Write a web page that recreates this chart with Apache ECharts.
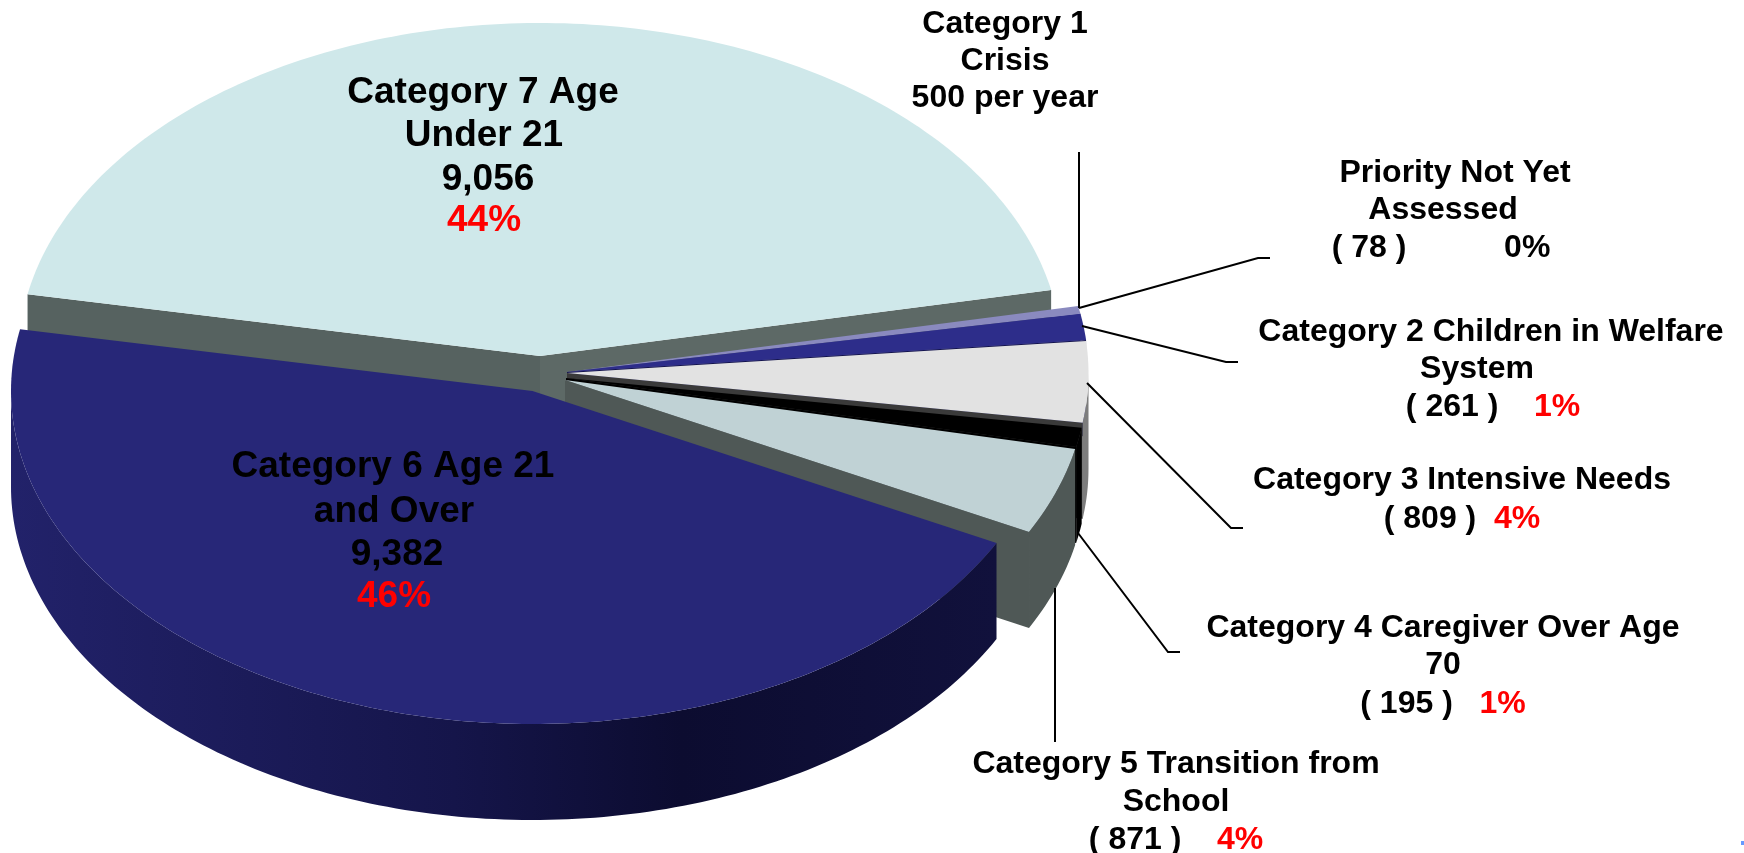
<!DOCTYPE html>
<html>
<head>
<meta charset="utf-8">
<title>Waiting list by priority category</title>
<script src="https://cdn.jsdelivr.net/npm/echarts@6/dist/echarts.min.js"></script>
<style>
  html, body { margin: 0; height: 100%; background: #fff; }
  #main { width: 1744px; height: 853px; }
</style>
</head>
<body>
<div id="main"></div>
<script>
// data, in the order the slices run clockwise from the left
var categories = ['Category 7 Age Under 21', 'Priority Not Yet Assessed', 'Category 2 Children in Welfare System',
  'Category 3 Intensive Needs', 'Category 4 Caregiver Over Age 70', 'Category 5 Transition from School', 'Category 6 Age 21 and Over'];
var counts = [9056, 78, 261, 809, 195, 871, 9382];

// label text, one entry per line
var labelLines = [
  ['Category 7 Age', 'Under 21', '9,056', '{r|44%}'],
  ['Category 6 Age 21', 'and Over', '9,382', '{r|46%}'],
  ['Category 1', 'Crisis', '500 per year'],
  ['Priority Not Yet', 'Assessed', '( 78 )           0%'],
  ['Category 2 Children in Welfare', 'System', '( 261 )    {r|1%}'],
  ['Category 3 Intensive Needs', '( 809 )  {r|4%}'],
  ['Category 4 Caregiver Over Age', '70', '( 195 )   {r|1%}'],
  ['Category 5 Transition from', 'School', '( 871 )    {r|4%}']
];

// pie look
var startAngle = 190.7;
var rx = 521.5, ry = 333, depth = 96;
var centers = [[540, 356], [567, 372], [567, 372], [567, 373], [566, 378], [565, 380], [532.5, 391]];
var topColors = ['#cfe8ea', '#8a8abf', '#2d2d8a', '#e2e2e2', '#000000', '#c0d2d5', '#272778'];
var startFaces = ['#566260', '#444', '#444', '#444', '#000', '#4f5856', '#111'];
var endFaces = ['#5d6966', '#5a5a90', '#14144e', '#3a3a3a', '#000', '#4f5856', '#111'];
var arcWalls = ['#566260', '#666', '#666', '#7d7d7d', '#000', '#4f5856', {
  type: 'linear', x: 0, y: 0, x2: 1, y2: 0,
  colorStops: [
    { offset: 0, color: '#22226a' },
    { offset: 0.45, color: '#15154a' },
    { offset: 0.68, color: '#0c0c30' },
    { offset: 1, color: '#11113c' }
  ]
}];

var total = counts.reduce(function (a, b) { return a + b; }, 0);

function rim(c, deg, drop) {
  var t = deg * Math.PI / 180;
  return [c[0] + rx * Math.cos(t), c[1] + ry * Math.sin(t) + (drop || 0)];
}

function arc(c, from, to, drop) {
  var pts = [];
  for (var d = from; d < to; d += 1) pts.push(rim(c, d, drop));
  pts.push(rim(c, to, drop));
  return pts;
}

function poly(points, fill) {
  return { type: 'polygon', shape: { points: points }, style: { fill: fill } };
}

function face(c, deg, fill) {
  var p = rim(c, deg);
  return poly([c, p, [p[0], p[1] + depth], [c[0], c[1] + depth]], fill);
}

function renderSlice(params) {
  var i = params.dataIndex;
  var before = counts.slice(0, i).reduce(function (a, b) { return a + b; }, 0);
  var from = startAngle + before / total * 360;
  var to = from + counts[i] / total * 360;
  var c = centers[i];
  var kids = [];

  // cut faces only show when they turn toward the viewer
  if (Math.cos(from * Math.PI / 180) < 0) kids.push(face(c, from, startFaces[i]));
  if (Math.cos(to * Math.PI / 180) > 0) kids.push(face(c, to, endFaces[i]));

  // outer wall: only the front half of the rim, 0-180 or 360-540
  [[0, 180], [360, 540]].forEach(function (range) {
    var a = Math.max(from, range[0]), b = Math.min(to, range[1]);
    if (a < b) kids.push(poly(arc(c, a, b, 0).concat(arc(c, a, b, depth).reverse()), arcWalls[i]));
  });

  kids.push(poly([c].concat(arc(c, from, to, 0)), topColors[i]));
  return { type: 'group', children: kids };
}

// label anchors, same shape as labelLines: center x, center y of each line
var labelAnchors = [
  [[483, 93], [484, 136], [488, 180], [484, 221]],
  [[393, 467], [394, 512], [397, 555], [394, 597]],
  [[1005, 24], [1005, 61], [1005, 98]],
  [[1455, 173], [1443, 210], [1441, 248]],
  [[1491, 332], [1477, 369], [1493, 407]],
  [[1462, 480], [1462, 519]],
  [[1443, 628], [1443, 665], [1443, 704]],
  [[1176, 764], [1176, 802], [1176, 840]]
];
var bigLabels = 2;

var leaders = [
  [[1079, 152], [1079, 308]],
  [[1079, 308], [1258, 258], [1270, 258]],
  [[1082, 326], [1226, 362], [1238, 362]],
  [[1087, 383], [1231, 528], [1243, 528]],
  [[1078, 533], [1168, 652], [1180, 652]],
  [[1055, 588], [1055, 742]]
];

var graphics = [];
leaders.forEach(function (pts) {
  graphics.push({
    type: 'polyline', shape: { points: pts }, z: 5,
    style: { stroke: '#000', lineWidth: 2, fill: null }
  });
});
labelLines.forEach(function (lines, i) {
  var size = i < bigLabels ? 37 : 32;
  lines.forEach(function (line, j) {
    graphics.push({
      type: 'text', x: labelAnchors[i][j][0], y: labelAnchors[i][j][1], z: 10,
      style: {
        text: line, align: 'center', verticalAlign: 'middle', fill: '#000',
        font: 'bold ' + size + 'px "Liberation Sans", Arial, sans-serif',
        rich: { r: { fill: '#ff0000', font: 'bold ' + size + 'px "Liberation Sans", Arial, sans-serif' } }
      }
    });
  });
});
// the little clipped speck in the bottom right corner of the slide
graphics.push({ type: 'rect', shape: { x: 1741, y: 841, width: 3, height: 4 }, style: { fill: '#6699ff' } });

var chart = echarts.init(document.getElementById('main'));
chart.setOption({
  animation: false,
  backgroundColor: '#fff',
  series: [{
    type: 'custom',
    coordinateSystem: 'none',
    renderItem: renderSlice,
    data: categories.map(function (name, i) { return { name: name, value: counts[i] }; })
  }],
  graphic: graphics
});

window.addEventListener('resize', function () {
  chart.resize();
});
</script>
</body>
</html>
